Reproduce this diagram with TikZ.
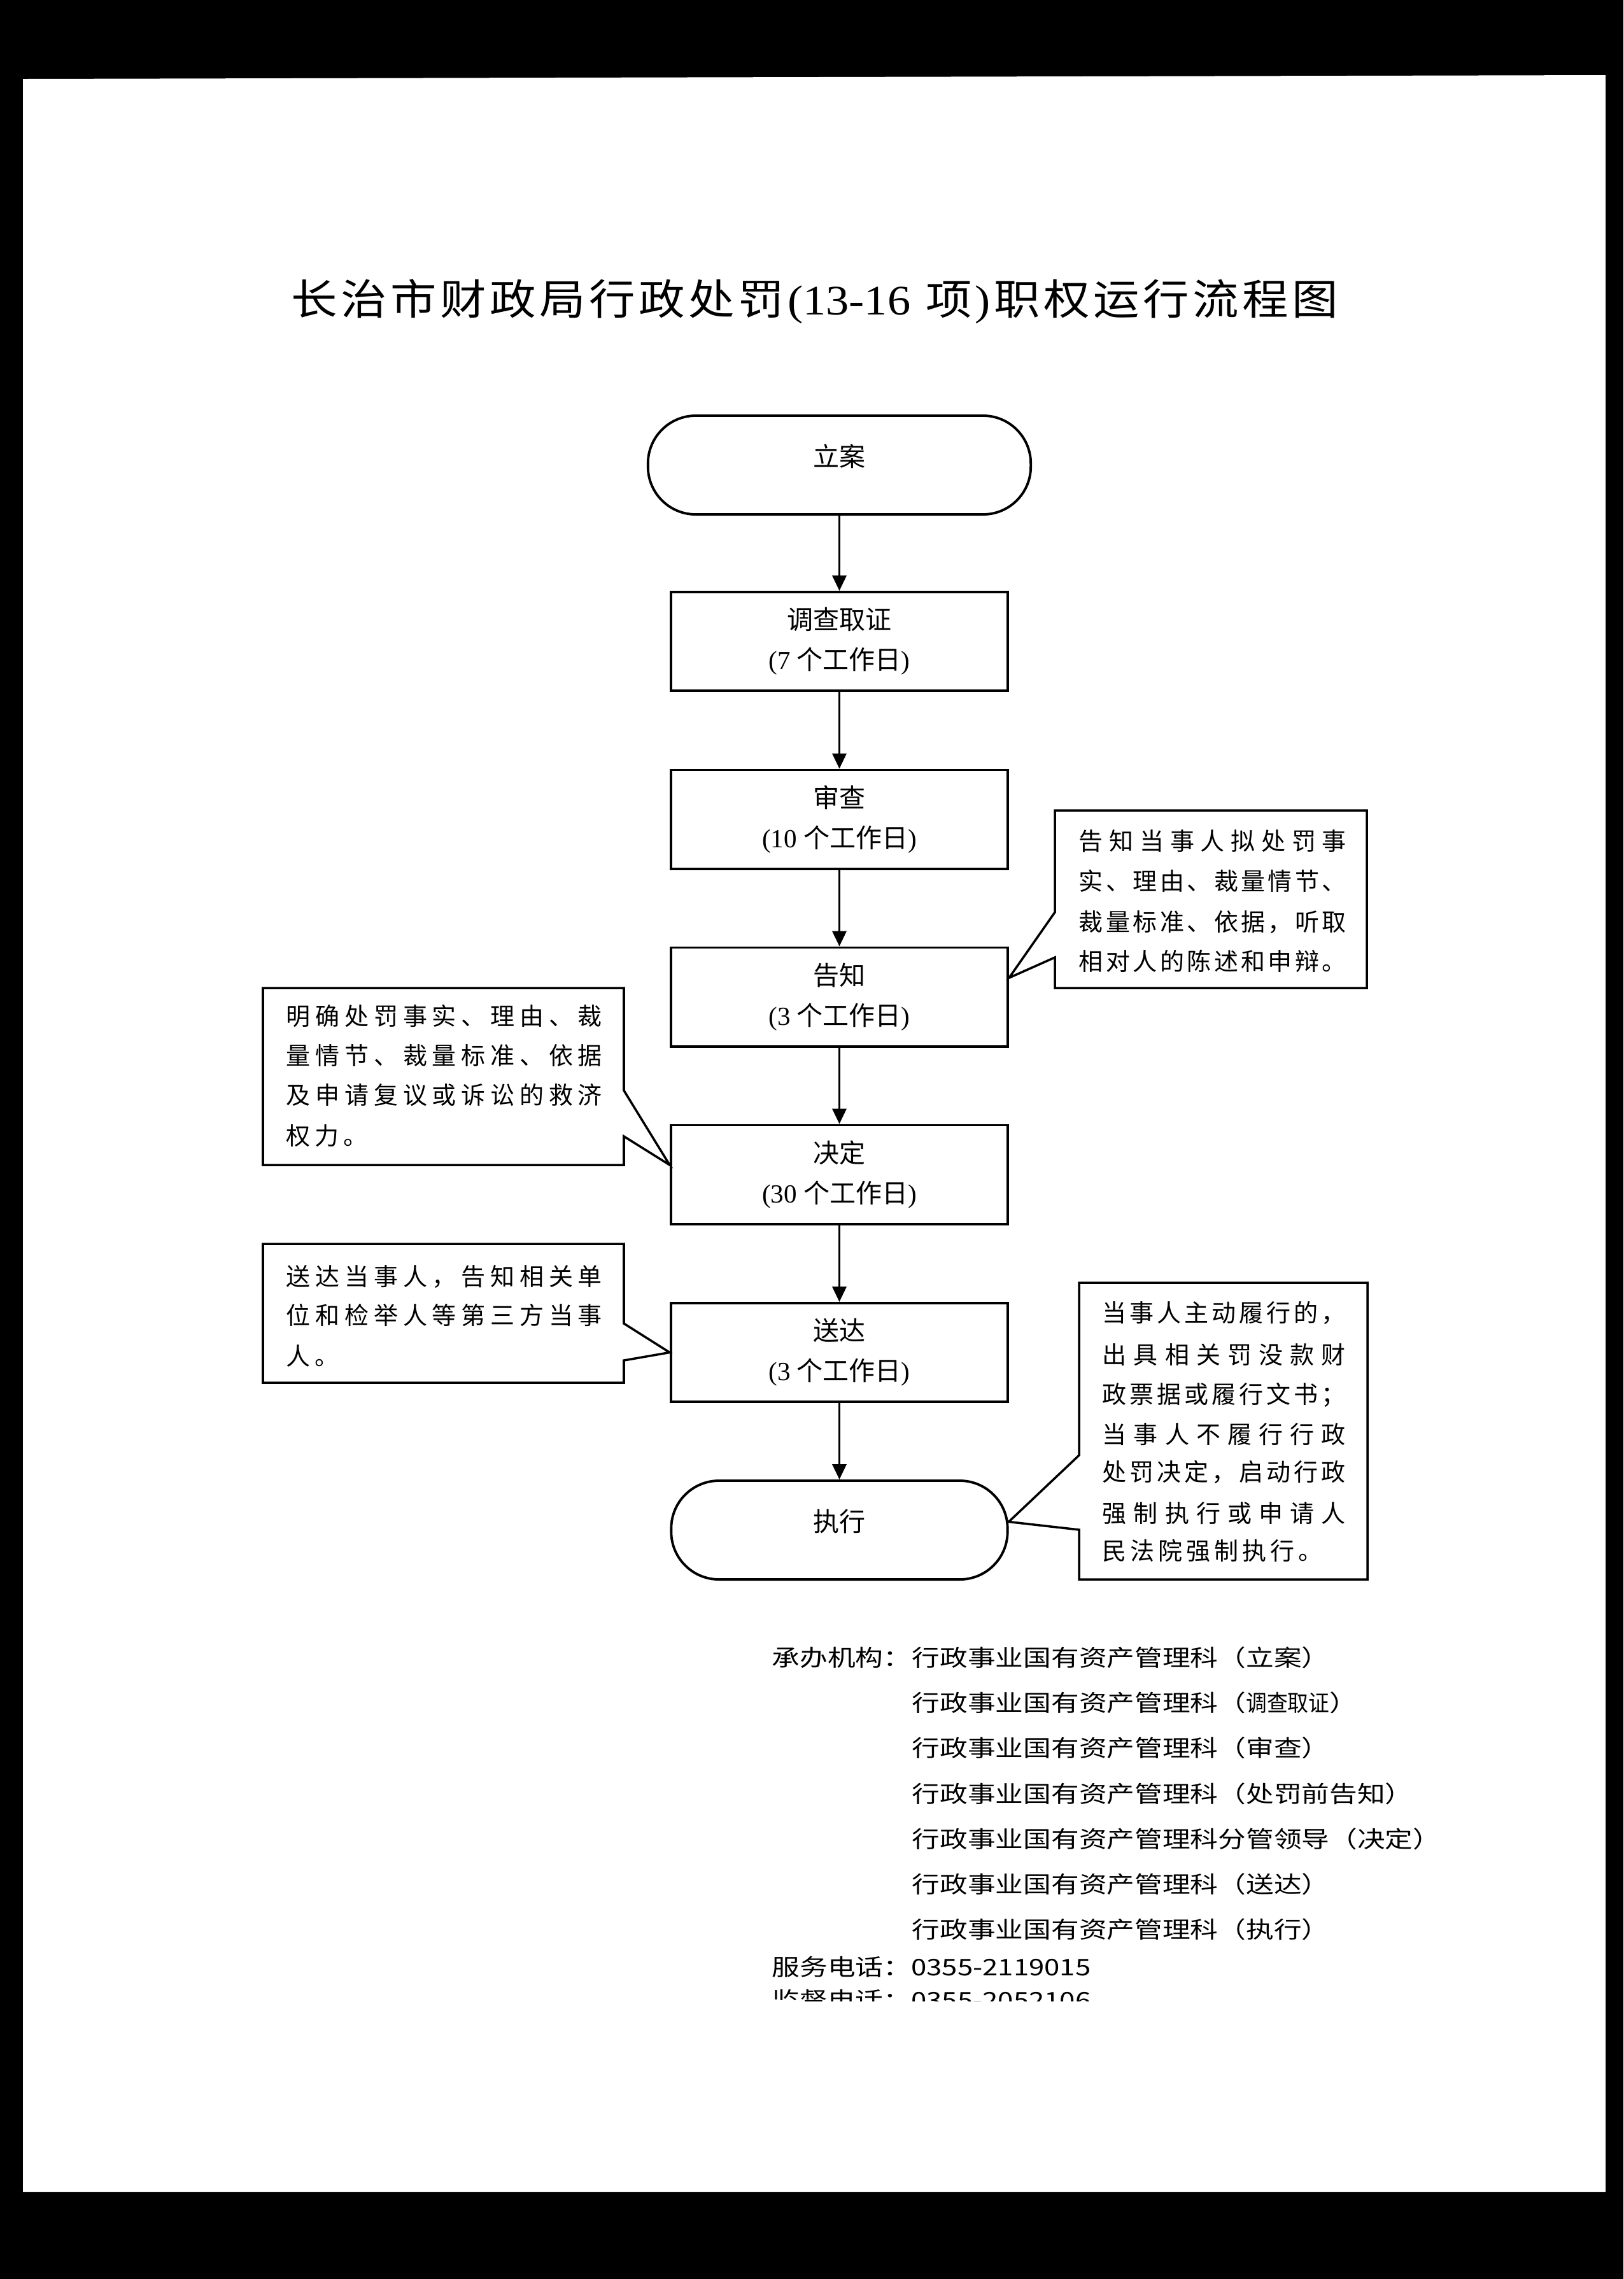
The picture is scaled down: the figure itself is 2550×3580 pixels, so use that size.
\documentclass[tikz,border=0pt]{standalone}
\usepackage{fontspec}
\usepackage{graphicx}
\setmainfont{Noto Sans CJK SC}
\newfontfamily\lat{Liberation Serif}
\usetikzlibrary{arrows.meta,calc}

\ExplSyntaxOn
\NewDocumentCommand \jline { m m }
  { \makebox[#1][s]{ \tl_map_inline:nn {#2} { ##1 \hfill } \unskip } }
\NewDocumentCommand \kline { m m }
  { \tl_map_inline:nn {#2} { ##1 \kern #1 } \unkern }
\ExplSyntaxOff

\newcommand\boxfont{\fontsize{11.67pt}{17.93pt}\selectfont}
\newcommand\calfont{\fontsize{10.81pt}{17pt}\selectfont}
\newcommand\botfont{\fontsize{10.24pt}{12pt}\selectfont}
\newcommand\titfont{\fontsize{18.78pt}{22pt}\selectfont}
\newcommand\sx[1]{\scalebox{1.214}[1]{#1}}

\begin{document}
\begin{tikzpicture}[x=0.01cm,y=-0.01cm,
  stepbox/.style={draw, line width=1.1pt, minimum width=5.29cm, minimum height=1.55cm,
    inner sep=0pt, align=center, font=\boxfont},
  stadium/.style={draw, line width=1.1pt, rounded corners=0.75cm, minimum height=1.55cm, inner sep=0pt},
  flow/.style={line width=1pt, -{Triangle[length=0.24cm,width=0.22cm]}},
  callout/.style={line width=1pt, line join=miter},
  ctext/.style={anchor=base west, inner sep=0pt, font=\calfont},
  btext/.style={anchor=base west, inner sep=0pt, font=\botfont},
  ttext/.style={inner sep=0pt, font=\boxfont}]

\useasboundingbox (0,0) rectangle (2550,3580);
\fill[black] (0,0) rectangle (2550,3580);
\fill[white] (36,124) -- (2522,118) -- (2522,3443) -- (36,3443) -- cycle;

% title
\node[anchor=base west, inner sep=0pt] (title) at (457,494)
  {\resizebox{16.43cm}{\height}{\titfont\kline{0.05cm}{长治市财政局行政处罚{{\lat(13-16 }}项{{\lat)}}职权运行流程图}}};

% flow nodes
\node[stadium, minimum width=6.01cm] (la) at (1318.5,730.5) {};
\node[ttext] (la-t) at (1318.5,717) {立案};
\node[stepbox] (dc) at (1318.5,1007.5) {调查取证\\{\lat(7 }个工作日{\lat)}};
\node[stepbox] (sc) at (1318.5,1287) {审查\\{\lat(10 }个工作日{\lat)}};
\node[stepbox] (gz) at (1318.5,1566) {告知\\{\lat(3 }个工作日{\lat)}};
\node[stepbox] (jd) at (1318.5,1845) {决定\\{\lat(30 }个工作日{\lat)}};
\node[stepbox] (sd) at (1318.5,2124.5) {送达\\{\lat(3 }个工作日{\lat)}};
\node[stadium, minimum width=5.28cm] (zx) at (1318.5,2403.5) {};
\node[ttext] (zx-t) at (1318.5,2390) {执行};

\draw[flow] (la) -- (dc);
\draw[flow] (dc) -- (sc);
\draw[flow] (sc) -- (gz);
\draw[flow] (gz) -- (jd);
\draw[flow] (jd) -- (sd);
\draw[flow] (sd) -- (zx);

% callout 1 (right of 告知)
\coordinate (rc1tip) at ($(gz.east)+(0,-30)$);
\draw[callout] (1657,1273) -- (2147,1273) -- (2147,1552) -- (1657,1552) -- (1657,1504)
  -- (rc1tip) -- (1657,1433) -- cycle;
\node[ctext] (rc1a) at (1694,1335) {\jline{4.20cm}{告知当事人拟处罚事}};
\node[ctext] (rc1b) at (1694,1398) {\jline{4.20cm}{实、理由、裁量情节、}};
\node[ctext] (rc1c) at (1694,1462) {\jline{4.20cm}{裁量标准、依据，听取}};
\node[ctext] (rc1d) at (1694,1524) {\jline{4.20cm}{相对人的陈述和申辩。}};

% callout 2 (left of 决定)
\coordinate (lc1tip) at ($(jd.west)+(0,-15)$);
\draw[callout] (413,1552) -- (980,1552) -- (980,1713) -- (lc1tip) -- (980,1785)
  -- (980,1830) -- (413,1830) -- cycle;
\node[ctext] (lc1a) at (449,1610) {\jline{4.96cm}{明确处罚事实、理由、裁}};
\node[ctext] (lc1b) at (449,1672) {\jline{4.96cm}{量情节、裁量标准、依据}};
\node[ctext] (lc1c) at (449,1734) {\jline{4.96cm}{及申请复议或诉讼的救济}};
\node[ctext] (lc1d) at (449,1798) {\kline{0.07cm}{权力。}};

% callout 3 (left of 送达)
\draw[callout] (413,1954) -- (980,1954) -- (980,2079) -- (sd.west) -- (980,2137)
  -- (980,2172) -- (413,2172) -- cycle;
\node[ctext] (lc2a) at (449,2019) {\jline{4.96cm}{送达当事人，告知相关单}};
\node[ctext] (lc2b) at (449,2080) {\jline{4.96cm}{位和检举人等第三方当事}};
\node[ctext] (lc2c) at (449,2144) {\kline{0.07cm}{人。}};

% callout 4 (right of 执行)
\coordinate (rc3tip) at ($(zx.east)+(0,-13)$);
\draw[callout] (1695,2015) -- (2148,2015) -- (2148,2481) -- (1695,2481) -- (1695,2403)
  -- (rc3tip) -- (1695,2286) -- cycle;
\node[ctext] (rc3a) at (1731,2076) {\jline{3.82cm}{当事人主动履行的，}};
\node[ctext] (rc3b) at (1731,2142) {\jline{3.82cm}{出具相关罚没款财}};
\node[ctext] (rc3c) at (1731,2204) {\jline{3.82cm}{政票据或履行文书；}};
\node[ctext] (rc3d) at (1731,2267) {\jline{3.82cm}{当事人不履行行政}};
\node[ctext] (rc3e) at (1731,2326) {\jline{3.82cm}{处罚决定，启动行政}};
\node[ctext] (rc3f) at (1731,2391) {\jline{3.82cm}{强制执行或申请人}};
\node[ctext] (rc3g) at (1731,2450) {\kline{0.06cm}{民法院强制执行。}};

% bottom text
\node[btext] (b0) at (1212,2617) {\sx{承办机构：}};
\node[btext] (b1) at (1432,2617) {\sx{行政事业国有资产管理科（立案）}};
\node[btext] (b2) at (1432,2688) {\sx{行政事业国有资产管理科（\scalebox{0.75}[1]{调查取证}）}};
\node[btext] (b3) at (1432,2759) {\sx{行政事业国有资产管理科（审查）}};
\node[btext] (b4) at (1432,2831) {\sx{行政事业国有资产管理科（处罚前告知）}};
\node[btext] (b5) at (1432,2902) {\sx{行政事业国有资产管理科分管领导（决定）}};
\node[btext] (b6) at (1432,2973) {\sx{行政事业国有资产管理科（送达）}};
\node[btext] (b7) at (1432,3044) {\sx{行政事业国有资产管理科（执行）}};
\node[btext] (b8) at (1212,3103) {\sx{服务电话：0355-2119015}};
\begin{scope}
  \clip (0,0) rectangle (2550,3143);
  \node[btext] (b9) at (1212,3155) {\sx{监督电话：0355-2052106}};
\end{scope}
\end{tikzpicture}
\end{document}
